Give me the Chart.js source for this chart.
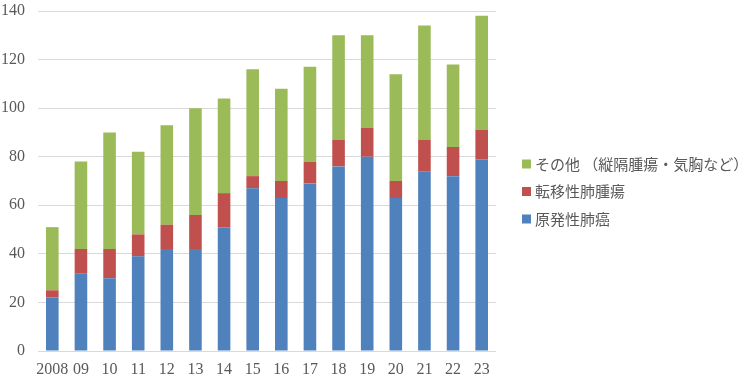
<!DOCTYPE html>
<html>
<head>
<meta charset="utf-8">
<script src="https://cdn.jsdelivr.net/npm/chart.js@4/dist/chart.umd.min.js"></script>
<style>
html,body{margin:0;padding:0;background:#fff;}
#wrap{width:746px;height:383px;position:relative;}
</style>
</head>
<body>
<div id="wrap"><canvas id="c" width="746" height="383"></canvas></div>
<script>
const categories = ["2008","09","10","11","12","13","14","15","16","17","18","19","20","21","22","23"];
const primaryLung = [22,32,30,39,42,42,51,67,63,69,76,80,63,74,72,79];
const metastatic  = [3,10,12,9,10,14,14,5,7,9,11,12,7,13,12,12];
const others      = [26,36,48,34,41,44,39,44,38,39,43,38,44,47,34,47];
const yTicks = [0,20,40,60,80,100,120,140];
const seriesNames = ["原発性肺癌","転移性肺腫瘍","その他 （縦隔腫瘍・気胸など）"];

const tickFont = {family:"'Liberation Serif','DejaVu Serif',serif", size:16};

const sideLegend = {
  id:'sideLegend',
  afterDraw(chart){
    const ctx = chart.ctx;
    const ds = chart.data.datasets.slice().reverse();
    const x0 = 522, yStart = 164, step = 27.5;
    ctx.save();
    ctx.font = "15px 'Noto Sans CJK JP','Noto Sans',sans-serif";
    ctx.textBaseline = 'middle';
    ctx.textAlign = 'left';
    ds.forEach((d,i)=>{
      const y = yStart + i*step;
      ctx.fillStyle = d.backgroundColor;
      ctx.fillRect(x0, y-4.5, 9, 9);
      ctx.fillStyle = '#595959';
      ctx.fillText(d.label, x0+13, y);
    });
    ctx.restore();
  }
};

new Chart(document.getElementById('c'), {
  type:'bar',
  data:{
    labels:categories,
    datasets:[
      {label:seriesNames[0], data:primaryLung, backgroundColor:'#4f81bd', categoryPercentage:0.88, barPercentage:0.5},
      {label:seriesNames[1], data:metastatic, backgroundColor:'#c0504d', categoryPercentage:0.88, barPercentage:0.5},
      {label:seriesNames[2], data:others, backgroundColor:'#9bbb59', categoryPercentage:0.88, barPercentage:0.5}
    ]
  },
  options:{
    responsive:false,
    animation:false,
    layout:{padding:{left:0,right:250,top:11,bottom:0}},
    plugins:{
      legend:{display:false},
      tooltip:{enabled:false}
    },
    scales:{
      x:{
        stacked:true,
        afterFit:(s)=>{s.height = 32; s.paddingLeft = 0; s.paddingRight = 0;},
        grid:{display:false, drawTicks:false},
        border:{display:false},
        ticks:{color:'#595959', font:tickFont, maxRotation:0, autoSkip:false, padding:9}
      },
      y:{
        stacked:true,
        min:0, max:140,
        afterBuildTicks:(ax)=>{ax.ticks = yTicks.map(v=>({value:v}));},
        afterFit:(s)=>{s.paddingTop = 0; s.paddingBottom = 0; s.width = 38;},
        grid:{color:'#d9d9d9', drawTicks:false},
        border:{display:false},
        ticks:{color:'#595959', font:tickFont, padding:13}
      }
    }
  },
  plugins:[sideLegend]
});
</script>
</body>
</html>
